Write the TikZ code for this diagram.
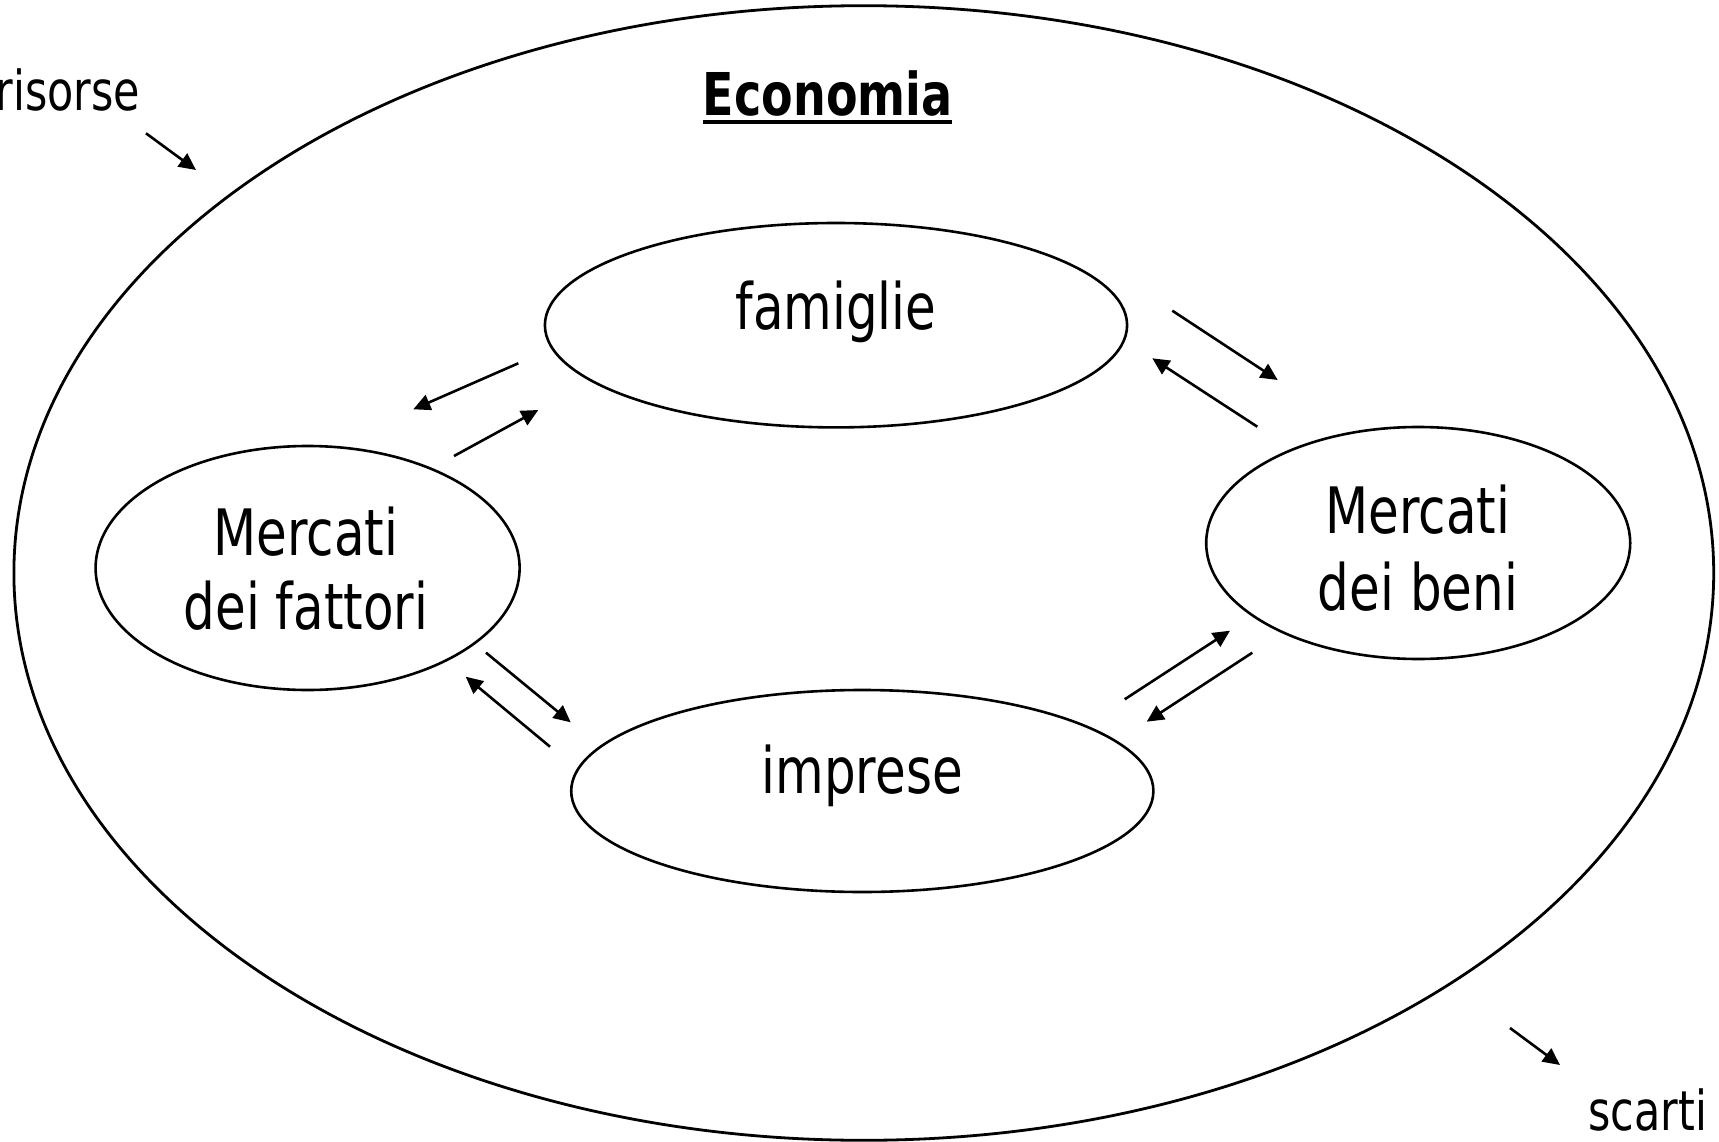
\documentclass[tikz,border=0pt]{standalone}
\usepackage{fontspec}
\setmainfont{DejaVu Sans}[FakeStretch=0.78]
\usetikzlibrary{shapes.geometric,arrows.meta}
\begin{document}
\begin{tikzpicture}[x=1pt,y=-1pt,
  blob/.style={draw, ellipse, line width=2.6pt, inner sep=0pt, outer sep=0pt},
  txt/.style={inner sep=0pt, outer sep=0pt, anchor=base, font=\fontsize{64}{76}\selectfont},
  side/.style={inner sep=0pt, outer sep=0pt, anchor=base east, font=\fontsize{55}{66}\selectfont},
  flow/.style={line width=2.6pt, -{Triangle[length=17pt,width=16pt]}}]
\useasboundingbox (0,0) rectangle (1719,1142);

% outer economy boundary
\node[blob, line width=2.8pt, minimum width=1699.8pt, minimum height=1134.6pt] (eco) at (863.8,573) {};
\node[inner sep=0pt, outer sep=0pt, anchor=base, font=\fontsize{59}{70}\selectfont\bfseries] (title) at (827.7,115.7) {Economia};
\draw[line width=4pt] ([yshift=-6pt]title.base west) -- ([yshift=-6pt]title.base east);

% inner ellipses
\node[blob, minimum width=582.2pt, minimum height=204.4pt] (fam) at (836,325.2) {};
\node[txt] (famt) at (836,329.6) {famiglie};

\node[blob, minimum width=424pt, minimum height=244pt] (fat) at (307.6,568) {};
\node[txt] (fat1) at (306,555) {Mercati};
\node[txt] (fat2) at (306,629.3) {dei fattori};

\node[blob, minimum width=424pt, minimum height=232pt] (ben) at (1418.2,543) {};
\node[txt] (ben1) at (1418,533) {Mercati};
\node[txt] (ben2) at (1418,610) {dei beni};

\node[blob, minimum width=582.2pt, minimum height=202pt] (imp) at (862.3,791) {};
\node[txt] (impt) at (862.3,793) {imprese};

% outside labels
\node[side] (ris) at (140,110.7) {risorse};
\node[side] (sca) at (1707,1130) {scarti};

% arrow end points
\coordinate (a1s) at (518.3,363.3); \coordinate (a1e) at (413.3,409.3);
\coordinate (a2s) at (454,456);     \coordinate (a2e) at (538.3,410);
\coordinate (a3s) at (1172.3,310.7); \coordinate (a3e) at (1277.7,380);
\coordinate (a4s) at (1257.3,426.7); \coordinate (a4e) at (1152.3,358.3);
\coordinate (a5s) at (1124.7,699.3); \coordinate (a5e) at (1230,630.7);
\coordinate (a6s) at (1252.3,652.7); \coordinate (a6e) at (1146.7,721.7);
\coordinate (a7s) at (486,652.7);   \coordinate (a7e) at (570.7,722.3);
\coordinate (a8s) at (550,746.7);   \coordinate (a8e) at (465.7,676.7);
\coordinate (rs) at (146,133.3);    \coordinate (re) at (196,170);
\coordinate (ss) at (1510,1028);    \coordinate (se) at (1560,1065);

\draw[flow] (a1s) -- (a1e);
\draw[flow] (a2s) -- (a2e);
\draw[flow] (a3s) -- (a3e);
\draw[flow] (a4s) -- (a4e);
\draw[flow] (a5s) -- (a5e);
\draw[flow] (a6s) -- (a6e);
\draw[flow] (a7s) -- (a7e);
\draw[flow] (a8s) -- (a8e);
\draw[flow] (rs) -- (re);
\draw[flow] (ss) -- (se);
\end{tikzpicture}
\end{document}
